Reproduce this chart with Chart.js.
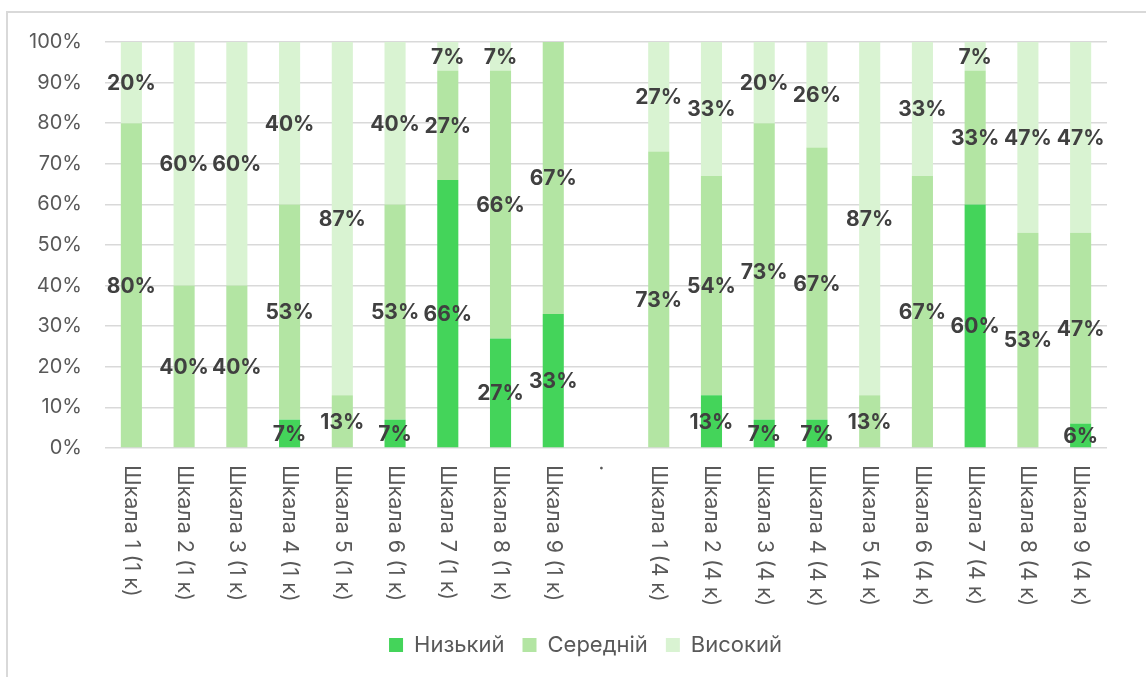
<!DOCTYPE html>
<html>
<head>
<meta charset="utf-8">
<script src="https://cdn.jsdelivr.net/npm/chart.js@4"></script>
<style>
  html, body { margin: 0; padding: 0; background: #fff; overflow: hidden; }
  #frame { position: absolute; left: 6px; top: 11px; width: 1300px; height: 800px; border: 2px solid #d9d9d9; }
  #wrap { position: absolute; left: 0; top: 0; width: 1146px; height: 677px; }
</style>
</head>
<body>
<div id="frame"></div>
<div id="wrap"><canvas id="chart" width="1146" height="677"></canvas></div>
<script>
// categories (a "." spacer sits between the two groups)
const categories = [
  "Шкала 1 (1 к)", "Шкала 2 (1 к)", "Шкала 3 (1 к)", "Шкала 4 (1 к)", "Шкала 5 (1 к)",
  "Шкала 6 (1 к)", "Шкала 7 (1 к)", "Шкала 8 (1 к)", "Шкала 9 (1 к)",
  ".",
  "Шкала 1 (4 к)", "Шкала 2 (4 к)", "Шкала 3 (4 к)", "Шкала 4 (4 к)", "Шкала 5 (4 к)",
  "Шкала 6 (4 к)", "Шкала 7 (4 к)", "Шкала 8 (4 к)", "Шкала 9 (4 к)"
];
const seriesNames = ["Низький", "Середній", "Високий"];
const low    = [0, 0, 0, 7, 0, 7, 66, 27, 33,  0,  0, 13, 7, 7, 0, 0, 60, 0, 6];
const middle = [80, 40, 40, 53, 13, 53, 27, 66, 67,  0,  73, 54, 73, 67, 13, 67, 33, 53, 47];
const high   = [20, 60, 60, 40, 87, 40, 7, 7, 0,  0,  27, 33, 20, 26, 87, 33, 7, 47, 47];
const colors = ["#44d45a", "#b3e5a3", "#d9f3d2"];

const FONT = "Inter, 'Liberation Sans', sans-serif";

// подписи значений по центру сегментов
const valueLabels = {
  id: "valueLabels",
  afterDatasetsDraw(chart) {
    const ctx = chart.ctx;
    ctx.save();
    ctx.font = "bold 21px " + FONT;
    ctx.fillStyle = "#404040";
    ctx.textAlign = "center";
    ctx.textBaseline = "middle";
    chart.data.datasets.forEach((ds, di) => {
      chart.getDatasetMeta(di).data.forEach((bar, i) => {
        const v = ds.data[i];
        if (!v) return;
        ctx.fillText(v + "%", bar.x, (bar.y + bar.base) / 2 + 1);
      });
    });
    ctx.restore();
  }
};

// вертикальные подписи категорий (сверху вниз)
const verticalTicks = {
  id: "verticalTicks",
  afterDraw(chart) {
    const ctx = chart.ctx;
    const x = chart.scales.x;
    ctx.save();
    ctx.font = "21.5px " + FONT;
    ctx.fillStyle = "#595959";
    ctx.textAlign = "left";
    ctx.textBaseline = "middle";
    categories.forEach((c, i) => {
      ctx.save();
      ctx.translate(x.getPixelForValue(i), x.top + 17);
      ctx.rotate(Math.PI / 2);
      ctx.fillText(c, 0, 0);
      ctx.restore();
    });
    ctx.restore();
  }
};

// легенда немного правее центра, как в оригинале
const legendShift = {
  id: "legendShift",
  afterLayout(chart) {
    chart.legend.left += 32;
    chart.legend.right += 32;
  }
};

new Chart(document.getElementById("chart"), {
  type: "bar",
  data: {
    labels: categories,
    datasets: [
      { label: seriesNames[0], data: low, backgroundColor: colors[0] },
      { label: seriesNames[1], data: middle, backgroundColor: colors[1] },
      { label: seriesNames[2], data: high, backgroundColor: colors[2] }
    ]
  },
  options: {
    responsive: false,
    animation: false,
    maintainAspectRatio: false,
    layout: { padding: { left: 0, right: 39, top: 42, bottom: 11 } },
    datasets: { bar: { categoryPercentage: 1, barPercentage: 0.4 } },
    scales: {
      x: {
        stacked: true,
        grid: { display: false },
        border: { display: false },
        ticks: { display: false },
        afterFit(s) { s.height = 168; }
      },
      y: {
        stacked: true,
        min: 0,
        max: 100,
        grid: { color: "#d9d9d9", lineWidth: 1.5, drawTicks: false },
        border: { display: false },
        ticks: {
          stepSize: 10,
          padding: 23,
          color: "#595959",
          font: { family: FONT, size: 20 },
          callback: v => v + "%"
        },
        afterFit(s) { s.width = 105; }
      }
    },
    plugins: {
      legend: {
        position: "bottom",
        labels: {
          color: "#595959",
          font: { family: FONT, size: 22 },
          boxWidth: 14,
          boxHeight: 14,
          padding: 18
        }
      },
      tooltip: { enabled: false }
    }
  },
  plugins: [valueLabels, verticalTicks, legendShift]
});
</script>
</body>
</html>
